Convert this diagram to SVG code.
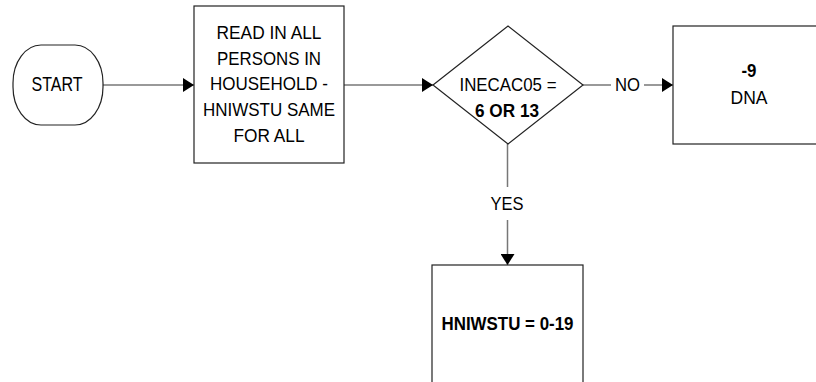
<svg xmlns="http://www.w3.org/2000/svg" width="816" height="382" viewBox="0 0 816 382">
<defs>
<style>
.shape{fill:#fff;stroke:#222;stroke-width:1.2}
.conn{stroke:#777;stroke-width:1.5;fill:none}
text{font-family:"Liberation Sans",Arial,sans-serif;font-size:19px;fill:#000;text-anchor:middle}
.b{font-weight:bold}
</style>
<marker id="arr" markerUnits="userSpaceOnUse" markerWidth="12" markerHeight="14" refX="11" refY="7" orient="auto">
<path d="M0,0 L11,7 L0,14 Z" fill="#000"/>
</marker>
</defs>
<rect width="816" height="382" fill="#fff"/>
<g id="connectors">
<line class="conn" x1="103" y1="85" x2="194" y2="85" marker-end="url(#arr)"/>
<line class="conn" x1="344" y1="85" x2="433" y2="85" marker-end="url(#arr)"/>
<line class="conn" x1="583" y1="85" x2="611" y2="85"/>
<text x="627.5" y="91" textLength="25" lengthAdjust="spacingAndGlyphs">NO</text>
<line class="conn" x1="644" y1="85" x2="673" y2="85" marker-end="url(#arr)"/>
<line class="conn" x1="507.5" y1="144" x2="507.5" y2="187"/>
<text x="507" y="210" textLength="33" lengthAdjust="spacingAndGlyphs">YES</text>
<line class="conn" x1="507.5" y1="220" x2="507.5" y2="265" marker-end="url(#arr)"/>
</g>
<g id="start">
<rect class="shape" x="13" y="45" width="90" height="80" rx="28" ry="38"/>
<text x="57" y="91" textLength="51" lengthAdjust="spacingAndGlyphs" style="font-size:21px">START</text>
</g>
<g id="read">
<rect class="shape" x="194" y="6" width="150" height="157"/>
<text x="269" y="38.5" textLength="105" lengthAdjust="spacingAndGlyphs">READ IN ALL</text>
<text x="269" y="64.5" textLength="104" lengthAdjust="spacingAndGlyphs">PERSONS IN</text>
<text x="269" y="90" textLength="118" lengthAdjust="spacingAndGlyphs">HOUSEHOLD -</text>
<text x="269" y="116" textLength="132" lengthAdjust="spacingAndGlyphs">HNIWSTU SAME</text>
<text x="269" y="142" textLength="71" lengthAdjust="spacingAndGlyphs">FOR ALL</text>
</g>
<g id="decision">
<polygon class="shape" points="433,85 508,26 583,85 508,144"/>
<text x="508" y="91" textLength="97" lengthAdjust="spacingAndGlyphs">INECAC05 =</text>
<text class="b" x="507" y="117" textLength="64" lengthAdjust="spacingAndGlyphs">6 OR 13</text>
</g>
<g id="dna">
<rect class="shape" x="673" y="26" width="160" height="118"/>
<text class="b" x="749" y="77" textLength="15" lengthAdjust="spacingAndGlyphs">-9</text>
<text x="749" y="104" textLength="37" lengthAdjust="spacingAndGlyphs">DNA</text>
</g>
<g id="result">
<rect class="shape" x="432" y="265" width="151" height="130"/>
<text class="b" x="507.5" y="330" textLength="132" lengthAdjust="spacingAndGlyphs">HNIWSTU = 0-19</text>
</g>
</svg>
